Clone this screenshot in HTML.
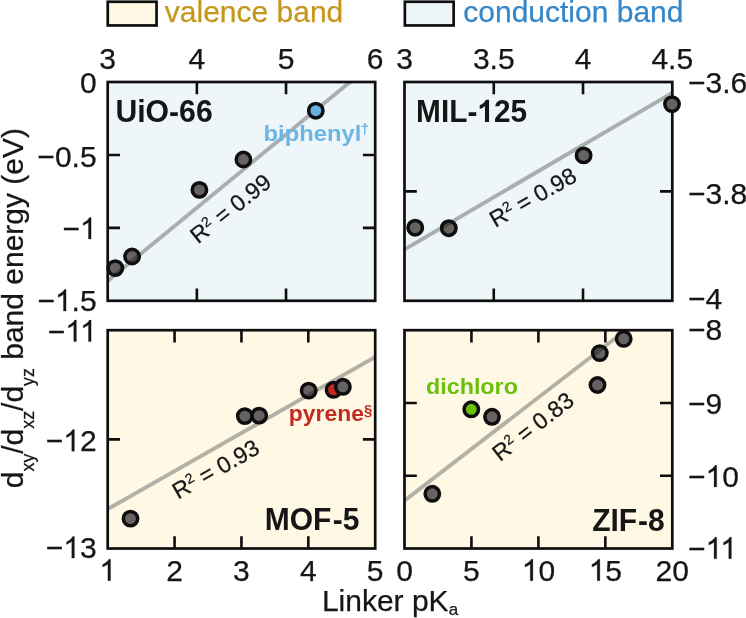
<!DOCTYPE html><html><head><meta charset="utf-8"><title>chart</title>
<style>html,body{margin:0;padding:0;background:#fff}svg{display:block;will-change:transform}text{font-family:"Liberation Sans",sans-serif;fill:#161616;stroke:#161616;stroke-width:0.25px}text[font-weight=bold]{stroke-width:0}</style></head><body>
<svg width="746" height="618" viewBox="0 0 746 618">
<rect width="746" height="618" fill="#fff"/>
<rect x="107.75" y="1.75" width="48.8" height="23.7" fill="#FFF8E5" stroke="#0e0e0e" stroke-width="2.7"/>
<text x="164.8" y="21.7" font-size="30" style="fill:#C7961C;stroke:#C7961C">valence band</text>
<rect x="404.85" y="1.75" width="48.8" height="23.7" fill="#EEF6FA" stroke="#0e0e0e" stroke-width="2.7"/>
<text x="463.3" y="21.7" font-size="30" style="fill:#3587C9;stroke:#3587C9">conduction band</text>
<rect x="107.7" y="82.0" width="267.50" height="218.80" fill="#EEF6FA"/>
<clipPath id="c1"><rect x="107.7" y="82.0" width="267.50" height="218.80"/></clipPath>
<line x1="100" y1="287.2" x2="360" y2="73.8" stroke="#A9AEB1" stroke-width="3.9" clip-path="url(#c1)"/>
<path d="M196.87 82.0v12.3M196.87 300.8v-12.3M286.03 82.0v12.3M286.03 300.8v-12.3M107.7 154.93h12.3M375.2 154.93h-12.3M107.7 227.87h12.3M375.2 227.87h-12.3" stroke="#0e0e0e" stroke-width="2.6" fill="none"/>
<rect x="107.7" y="82.0" width="267.50" height="218.80" fill="none" stroke="#0e0e0e" stroke-width="2.7"/>
<circle cx="115.3" cy="268.1" r="7.2" fill="#676262"/>
<clipPath id="c1p0"><circle cx="115.3" cy="268.1" r="7.2"/></clipPath>
<line x1="100" y1="287.2" x2="360" y2="73.8" stroke="#474444" stroke-width="3.9" clip-path="url(#c1p0)"/>
<circle cx="115.3" cy="268.1" r="7.2" fill="none" stroke="#0e0e0e" stroke-width="3.5"/>
<circle cx="132.1" cy="256.5" r="7.2" fill="#676262"/>
<clipPath id="c1p1"><circle cx="132.1" cy="256.5" r="7.2"/></clipPath>
<line x1="100" y1="287.2" x2="360" y2="73.8" stroke="#474444" stroke-width="3.9" clip-path="url(#c1p1)"/>
<circle cx="132.1" cy="256.5" r="7.2" fill="none" stroke="#0e0e0e" stroke-width="3.5"/>
<circle cx="199.4" cy="189.9" r="7.2" fill="#676262"/>
<clipPath id="c1p2"><circle cx="199.4" cy="189.9" r="7.2"/></clipPath>
<line x1="100" y1="287.2" x2="360" y2="73.8" stroke="#474444" stroke-width="3.9" clip-path="url(#c1p2)"/>
<circle cx="199.4" cy="189.9" r="7.2" fill="none" stroke="#0e0e0e" stroke-width="3.5"/>
<circle cx="243.4" cy="159.5" r="7.2" fill="#676262"/>
<clipPath id="c1p3"><circle cx="243.4" cy="159.5" r="7.2"/></clipPath>
<line x1="100" y1="287.2" x2="360" y2="73.8" stroke="#474444" stroke-width="3.9" clip-path="url(#c1p3)"/>
<circle cx="243.4" cy="159.5" r="7.2" fill="none" stroke="#0e0e0e" stroke-width="3.5"/>
<circle cx="315.8" cy="110.7" r="7.2" fill="#66B0DF"/>
<circle cx="315.8" cy="110.7" r="7.2" fill="none" stroke="#0e0e0e" stroke-width="3.5"/>
<rect x="404.5" y="82.0" width="267.80" height="218.80" fill="#EEF6FA"/>
<clipPath id="c2"><rect x="404.5" y="82.0" width="267.80" height="218.80"/></clipPath>
<line x1="400" y1="252.0" x2="676" y2="90.7" stroke="#A9AEB1" stroke-width="3.9" clip-path="url(#c2)"/>
<path d="M493.77 82.0v12.3M493.77 300.8v-12.3M583.03 82.0v12.3M583.03 300.8v-12.3M404.5 191.40h12.3M672.3 191.40h-12.3" stroke="#0e0e0e" stroke-width="2.6" fill="none"/>
<rect x="404.5" y="82.0" width="267.80" height="218.80" fill="none" stroke="#0e0e0e" stroke-width="2.7"/>
<circle cx="415.2" cy="227.7" r="7.2" fill="#676262"/>
<clipPath id="c2p0"><circle cx="415.2" cy="227.7" r="7.2"/></clipPath>
<line x1="400" y1="252.0" x2="676" y2="90.7" stroke="#474444" stroke-width="3.9" clip-path="url(#c2p0)"/>
<circle cx="415.2" cy="227.7" r="7.2" fill="none" stroke="#0e0e0e" stroke-width="3.5"/>
<circle cx="448.8" cy="228.2" r="7.2" fill="#676262"/>
<clipPath id="c2p1"><circle cx="448.8" cy="228.2" r="7.2"/></clipPath>
<line x1="400" y1="252.0" x2="676" y2="90.7" stroke="#474444" stroke-width="3.9" clip-path="url(#c2p1)"/>
<circle cx="448.8" cy="228.2" r="7.2" fill="none" stroke="#0e0e0e" stroke-width="3.5"/>
<circle cx="583.6" cy="155.4" r="7.2" fill="#676262"/>
<clipPath id="c2p2"><circle cx="583.6" cy="155.4" r="7.2"/></clipPath>
<line x1="400" y1="252.0" x2="676" y2="90.7" stroke="#474444" stroke-width="3.9" clip-path="url(#c2p2)"/>
<circle cx="583.6" cy="155.4" r="7.2" fill="none" stroke="#0e0e0e" stroke-width="3.5"/>
<circle cx="672.0" cy="104.1" r="7.2" fill="#676262"/>
<clipPath id="c2p3"><circle cx="672.0" cy="104.1" r="7.2"/></clipPath>
<line x1="400" y1="252.0" x2="676" y2="90.7" stroke="#474444" stroke-width="3.9" clip-path="url(#c2p3)"/>
<circle cx="672.0" cy="104.1" r="7.2" fill="none" stroke="#0e0e0e" stroke-width="3.5"/>
<rect x="107.7" y="330.2" width="267.50" height="218.30" fill="#FFF8E5"/>
<clipPath id="c3"><rect x="107.7" y="330.2" width="267.50" height="218.30"/></clipPath>
<line x1="100" y1="513.55" x2="380" y2="354.3" stroke="#B3B1A6" stroke-width="3.9" clip-path="url(#c3)"/>
<path d="M174.57 330.2v12.3M174.57 548.5v-12.3M241.45 330.2v12.3M241.45 548.5v-12.3M308.32 330.2v12.3M308.32 548.5v-12.3M107.7 439.35h12.3M375.2 439.35h-12.3" stroke="#0e0e0e" stroke-width="2.6" fill="none"/>
<rect x="107.7" y="330.2" width="267.50" height="218.30" fill="none" stroke="#0e0e0e" stroke-width="2.7"/>
<circle cx="130.5" cy="518.6" r="7.2" fill="#676262"/>
<clipPath id="c3p0"><circle cx="130.5" cy="518.6" r="7.2"/></clipPath>
<line x1="100" y1="513.55" x2="380" y2="354.3" stroke="#474444" stroke-width="3.9" clip-path="url(#c3p0)"/>
<circle cx="130.5" cy="518.6" r="7.2" fill="none" stroke="#0e0e0e" stroke-width="3.5"/>
<circle cx="244.8" cy="416.1" r="7.2" fill="#676262"/>
<clipPath id="c3p1"><circle cx="244.8" cy="416.1" r="7.2"/></clipPath>
<line x1="100" y1="513.55" x2="380" y2="354.3" stroke="#474444" stroke-width="3.9" clip-path="url(#c3p1)"/>
<circle cx="244.8" cy="416.1" r="7.2" fill="none" stroke="#0e0e0e" stroke-width="3.5"/>
<circle cx="259.2" cy="415.6" r="7.2" fill="#676262"/>
<clipPath id="c3p2"><circle cx="259.2" cy="415.6" r="7.2"/></clipPath>
<line x1="100" y1="513.55" x2="380" y2="354.3" stroke="#474444" stroke-width="3.9" clip-path="url(#c3p2)"/>
<circle cx="259.2" cy="415.6" r="7.2" fill="none" stroke="#0e0e0e" stroke-width="3.5"/>
<circle cx="308.7" cy="390.6" r="7.2" fill="#676262"/>
<clipPath id="c3p3"><circle cx="308.7" cy="390.6" r="7.2"/></clipPath>
<line x1="100" y1="513.55" x2="380" y2="354.3" stroke="#474444" stroke-width="3.9" clip-path="url(#c3p3)"/>
<circle cx="308.7" cy="390.6" r="7.2" fill="none" stroke="#0e0e0e" stroke-width="3.5"/>
<circle cx="333.5" cy="389.8" r="7.2" fill="#C9281C"/>
<circle cx="333.5" cy="389.8" r="7.2" fill="none" stroke="#0e0e0e" stroke-width="3.5"/>
<circle cx="342.9" cy="386.8" r="7.2" fill="#676262"/>
<clipPath id="c3p5"><circle cx="342.9" cy="386.8" r="7.2"/></clipPath>
<line x1="100" y1="513.55" x2="380" y2="354.3" stroke="#474444" stroke-width="3.9" clip-path="url(#c3p5)"/>
<circle cx="342.9" cy="386.8" r="7.2" fill="none" stroke="#0e0e0e" stroke-width="3.5"/>
<rect x="404.5" y="330.2" width="267.80" height="218.30" fill="#FFF8E5"/>
<clipPath id="c4"><rect x="404.5" y="330.2" width="267.80" height="218.30"/></clipPath>
<line x1="400" y1="504.0" x2="617.2" y2="336.8" stroke="#B3B1A6" stroke-width="3.9" clip-path="url(#c4)"/>
<path d="M471.45 330.2v12.3M471.45 548.5v-12.3M538.40 330.2v12.3M538.40 548.5v-12.3M605.35 330.2v12.3M605.35 548.5v-12.3M404.5 402.97h12.3M672.3 402.97h-12.3M404.5 475.73h12.3M672.3 475.73h-12.3" stroke="#0e0e0e" stroke-width="2.6" fill="none"/>
<rect x="404.5" y="330.2" width="267.80" height="218.30" fill="none" stroke="#0e0e0e" stroke-width="2.7"/>
<circle cx="432.3" cy="493.8" r="7.2" fill="#676262"/>
<clipPath id="c4p0"><circle cx="432.3" cy="493.8" r="7.2"/></clipPath>
<line x1="400" y1="504.0" x2="617.2" y2="336.8" stroke="#474444" stroke-width="3.9" clip-path="url(#c4p0)"/>
<circle cx="432.3" cy="493.8" r="7.2" fill="none" stroke="#0e0e0e" stroke-width="3.5"/>
<circle cx="471.3" cy="409.3" r="7.2" fill="#6AC10A"/>
<circle cx="471.3" cy="409.3" r="7.2" fill="none" stroke="#0e0e0e" stroke-width="3.5"/>
<circle cx="492" cy="416.8" r="7.2" fill="#676262"/>
<clipPath id="c4p2"><circle cx="492" cy="416.8" r="7.2"/></clipPath>
<line x1="400" y1="504.0" x2="617.2" y2="336.8" stroke="#474444" stroke-width="3.9" clip-path="url(#c4p2)"/>
<circle cx="492" cy="416.8" r="7.2" fill="none" stroke="#0e0e0e" stroke-width="3.5"/>
<circle cx="597.5" cy="385.0" r="7.2" fill="#676262"/>
<clipPath id="c4p3"><circle cx="597.5" cy="385.0" r="7.2"/></clipPath>
<line x1="400" y1="504.0" x2="617.2" y2="336.8" stroke="#474444" stroke-width="3.9" clip-path="url(#c4p3)"/>
<circle cx="597.5" cy="385.0" r="7.2" fill="none" stroke="#0e0e0e" stroke-width="3.5"/>
<circle cx="599.8" cy="353.1" r="7.2" fill="#676262"/>
<clipPath id="c4p4"><circle cx="599.8" cy="353.1" r="7.2"/></clipPath>
<line x1="400" y1="504.0" x2="617.2" y2="336.8" stroke="#474444" stroke-width="3.9" clip-path="url(#c4p4)"/>
<circle cx="599.8" cy="353.1" r="7.2" fill="none" stroke="#0e0e0e" stroke-width="3.5"/>
<circle cx="623.7" cy="338.8" r="7.2" fill="#676262"/>
<circle cx="623.7" cy="338.8" r="7.2" fill="none" stroke="#0e0e0e" stroke-width="3.5"/>
<text x="107.70" y="69.10" font-size="30" text-anchor="middle" >3</text>
<text x="196.87" y="69.10" font-size="30" text-anchor="middle" >4</text>
<text x="286.03" y="69.10" font-size="30" text-anchor="middle" >5</text>
<text x="375.20" y="69.10" font-size="30" text-anchor="middle" >6</text>
<text x="404.50" y="69.10" font-size="30" text-anchor="middle" >3</text>
<text x="493.77" y="69.10" font-size="30" text-anchor="middle" >3.5</text>
<text x="583.03" y="69.10" font-size="30" text-anchor="middle" >4</text>
<text x="672.30" y="69.10" font-size="30" text-anchor="middle" >4.5</text>
<path d="M763,0L583,0L583,1147Q518,1085 412.5,1023Q307,961 223,930L223,1104Q374,1175 487,1276Q600,1377 647,1472L763,1472Z" transform="translate(99.36,580.70) scale(0.01465,-0.01465)" fill="#161616" stroke="#161616" stroke-width="17.1"/>
<text x="174.57" y="580.70" font-size="30" text-anchor="middle" >2</text>
<text x="241.45" y="580.70" font-size="30" text-anchor="middle" >3</text>
<text x="308.32" y="580.70" font-size="30" text-anchor="middle" >4</text>
<text x="375.20" y="580.70" font-size="30" text-anchor="middle" >5</text>
<text x="404.50" y="580.70" font-size="30" text-anchor="middle" >0</text>
<text x="471.45" y="580.70" font-size="30" text-anchor="middle" >5</text>
<path d="M763,0L583,0L583,1147Q518,1085 412.5,1023Q307,961 223,930L223,1104Q374,1175 487,1276Q600,1377 647,1472L763,1472Z" transform="translate(521.72,580.70) scale(0.01465,-0.01465)" fill="#161616" stroke="#161616" stroke-width="17.1"/>
<text x="538.40" y="580.70" font-size="30" >0</text>
<path d="M763,0L583,0L583,1147Q518,1085 412.5,1023Q307,961 223,930L223,1104Q374,1175 487,1276Q600,1377 647,1472L763,1472Z" transform="translate(588.67,580.70) scale(0.01465,-0.01465)" fill="#161616" stroke="#161616" stroke-width="17.1"/>
<text x="605.35" y="580.70" font-size="30" >5</text>
<text x="672.30" y="580.70" font-size="30" text-anchor="middle" >20</text>
<text x="96.60" y="92.60" font-size="30" text-anchor="end" >0</text>
<text x="96.60" y="166.73" font-size="30" text-anchor="end" >−0.5</text>
<text x="62.40" y="239.07" font-size="30" >−</text>
<path d="M763,0L583,0L583,1147Q518,1085 412.5,1023Q307,961 223,930L223,1104Q374,1175 487,1276Q600,1377 647,1472L763,1472Z" transform="translate(79.92,239.07) scale(0.01465,-0.01465)" fill="#161616" stroke="#161616" stroke-width="17.1"/>
<text x="37.38" y="311.00" font-size="30" >−</text>
<path d="M763,0L583,0L583,1147Q518,1085 412.5,1023Q307,961 223,930L223,1104Q374,1175 487,1276Q600,1377 647,1472L763,1472Z" transform="translate(54.90,311.00) scale(0.01465,-0.01465)" fill="#161616" stroke="#161616" stroke-width="17.1"/>
<text x="71.58" y="311.00" font-size="30" >.5</text>
<text x="47.70" y="341.60" font-size="30" >−</text>
<path d="M763,0L583,0L583,1147Q518,1085 412.5,1023Q307,961 223,930L223,1104Q374,1175 487,1276Q600,1377 647,1472L763,1472Z" transform="translate(65.22,341.60) scale(0.01465,-0.01465)" fill="#161616" stroke="#161616" stroke-width="17.1"/>
<path d="M763,0L583,0L583,1147Q518,1085 412.5,1023Q307,961 223,930L223,1104Q374,1175 487,1276Q600,1377 647,1472L763,1472Z" transform="translate(79.92,341.60) scale(0.01465,-0.01465)" fill="#161616" stroke="#161616" stroke-width="17.1"/>
<text x="45.72" y="451.15" font-size="30" >−</text>
<path d="M763,0L583,0L583,1147Q518,1085 412.5,1023Q307,961 223,930L223,1104Q374,1175 487,1276Q600,1377 647,1472L763,1472Z" transform="translate(63.24,451.15) scale(0.01465,-0.01465)" fill="#161616" stroke="#161616" stroke-width="17.1"/>
<text x="79.92" y="451.15" font-size="30" >2</text>
<text x="45.72" y="558.10" font-size="30" >−</text>
<path d="M763,0L583,0L583,1147Q518,1085 412.5,1023Q307,961 223,930L223,1104Q374,1175 487,1276Q600,1377 647,1472L763,1472Z" transform="translate(63.24,558.10) scale(0.01465,-0.01465)" fill="#161616" stroke="#161616" stroke-width="17.1"/>
<text x="79.92" y="558.10" font-size="30" >3</text>
<text x="688.00" y="93.20" font-size="30" text-anchor="start" >−3.6</text>
<text x="688.00" y="204.00" font-size="30" text-anchor="start" >−3.8</text>
<text x="688.00" y="308.80" font-size="30" text-anchor="start" >−4</text>
<text x="688.00" y="340.40" font-size="30" text-anchor="start" >−8</text>
<text x="688.00" y="413.77" font-size="30" text-anchor="start" >−9</text>
<text x="688.00" y="486.93" font-size="30" >−</text>
<path d="M763,0L583,0L583,1147Q518,1085 412.5,1023Q307,961 223,930L223,1104Q374,1175 487,1276Q600,1377 647,1472L763,1472Z" transform="translate(705.52,486.93) scale(0.01465,-0.01465)" fill="#161616" stroke="#161616" stroke-width="17.1"/>
<text x="722.20" y="486.93" font-size="30" >0</text>
<text x="688.00" y="558.70" font-size="30" >−</text>
<path d="M763,0L583,0L583,1147Q518,1085 412.5,1023Q307,961 223,930L223,1104Q374,1175 487,1276Q600,1377 647,1472L763,1472Z" transform="translate(705.52,558.70) scale(0.01465,-0.01465)" fill="#161616" stroke="#161616" stroke-width="17.1"/>
<path d="M763,0L583,0L583,1147Q518,1085 412.5,1023Q307,961 223,930L223,1104Q374,1175 487,1276Q600,1377 647,1472L763,1472Z" transform="translate(720.22,558.70) scale(0.01465,-0.01465)" fill="#161616" stroke="#161616" stroke-width="17.1"/>
<g transform="translate(0,121.9) scale(1,1.04) translate(0,-121.9)"><text x="115.4" y="121.9" font-size="30.2" font-weight="bold">UiO-66</text></g>
<g transform="translate(0,121.9) scale(1,1.04) translate(0,-121.9)">
<text x="416.10" y="121.90" font-size="29.8" font-weight="bold">MIL-</text>
<path d="M806,0L525,0L525,1059Q371,915 162,846L162,1101Q272,1137 401,1237.5Q530,1338 578,1472L806,1472Z" transform="translate(477.34,121.90) scale(0.01455,-0.01455)" fill="#161616" stroke="#161616" stroke-width="0.0"/>
<text x="493.91" y="121.90" font-size="29.8" font-weight="bold">25</text>
</g>
<g transform="translate(0,530.2) scale(1,1.04) translate(0,-529.9)"><text x="264.8" y="529.9" font-size="30" font-weight="bold">MOF</text><text x="332.7" y="529.9" font-size="30" font-weight="bold">-5</text></g>
<g transform="translate(0,530.6) scale(1,1.04) translate(0,-530.6)"><text x="592.2" y="530.6" font-size="30" font-weight="bold">ZIF</text><text x="638" y="530.6" font-size="30" font-weight="bold">-8</text></g>
<g transform="translate(0,141.2) scale(1,0.94) translate(0,-140.7)"><text x="263.6" y="140.7" font-size="23.8" font-weight="bold" style="fill:#6CB6E3;stroke:#6CB6E3">biphenyl<tspan font-size="15.5" dy="-7.5" dx="-0.8">†</tspan></text></g>
<g transform="translate(0,421.5) scale(1,0.94) translate(0,-421.3)"><text x="288.8" y="421.3" font-size="22.9" font-weight="bold" style="fill:#C42A1E;stroke:#C42A1E">pyrene<tspan font-size="14.8" dy="-7" dx="0">§</tspan></text></g>
<g transform="translate(0,393.8) scale(1,0.94) translate(0,-393.6)"><text x="426" y="393.6" font-size="23.3" font-weight="bold" style="fill:#6BC00C;stroke:#6BC00C">dichloro</text></g>
<text transform="translate(198,244.6) rotate(-38.5)" font-size="23.1">R<tspan font-size="14" dy="-8">2</tspan><tspan dy="8"> = 0.99</tspan></text>
<text transform="translate(495.3,228.1) rotate(-29.9)" font-size="23.1">R<tspan font-size="14" dy="-8">2</tspan><tspan dy="8"> = 0.98</tspan></text>
<text transform="translate(178,499.8) rotate(-29.6)" font-size="23.1">R<tspan font-size="14" dy="-8">2</tspan><tspan dy="8"> = 0.93</tspan></text>
<text transform="translate(500,462.2) rotate(-37.9)" font-size="23.1">R<tspan font-size="14" dy="-8">2</tspan><tspan dy="8"> = 0.83</tspan></text>
<text x="321.9" y="611.2" font-size="30">Linker pK<tspan font-size="17" dy="4">a</tspan></text>
<text transform="translate(23.2,488.2) rotate(-90)" font-size="30">d<tspan font-size="17.8" dy="10.3">xy</tspan><tspan dy="-10.3">/d</tspan><tspan font-size="17.8" dy="10.3">xz</tspan><tspan dy="-10.3">/d</tspan><tspan font-size="17.8" dy="10.3">yz</tspan><tspan dy="-10.3"> band energy (eV)</tspan></text>
</svg></body></html>
